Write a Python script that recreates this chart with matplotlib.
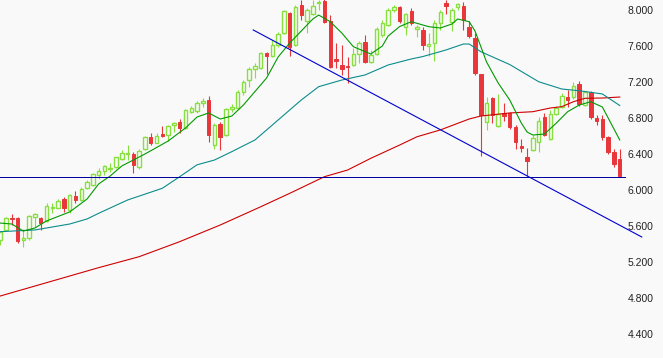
import numpy as np
import matplotlib
matplotlib.use('Agg')
import matplotlib.pyplot as plt

# candle data
opens = [5.444, 5.55, 5.685, 5.692, 5.448, 5.463, 5.703, 5.686, 5.659, 5.797,
         5.804, 5.896, 5.778, 5.933, 5.889, 6.019, 6.056, 6.167, 6.214, 6.230,
         6.252, 6.344, 6.40, 6.40, 6.259, 6.452, 6.593, 6.526, 6.622, 6.611,
         6.722, 6.759, 6.685, 6.87, 6.881, 6.963, 6.996, 6.50, 6.733, 6.611,
         6.896, 6.907, 7.093, 7.222, 7.341, 7.352, 7.526, 7.489, 7.611, 7.748,
         7.970, 7.611, 8.056, 7.881, 7.956, 8.074, 8.10, 7.881, 7.459, 7.389,
         7.378, 7.389, 7.511, 7.648, 7.426, 7.511, 7.72, 7.833, 8.0, 8.037,
         7.815, 7.992, 7.785, 7.778, 7.60, 7.63, 7.852, 8.074, 7.87, 8.03,
         8.044, 7.815, 7.685, 7.289, 6.759, 7.019, 6.711, 6.859, 6.852, 6.704,
         6.489, 6.363, 6.444, 6.537, 6.815, 6.563, 6.844, 6.926, 7.03, 7.03,
         7.178, 6.944, 7.093, 6.796, 6.785, 6.585, 6.426, 6.341]
highs = [5.54, 5.70, 5.733, 5.70, 5.563, 5.72, 5.748, 5.703, 5.852, 5.852,
         5.904, 5.919, 5.956, 5.993, 6.03, 6.111, 6.19, 6.24, 6.278, 6.296,
         6.37, 6.444, 6.496, 6.426, 6.456, 6.60, 6.63, 6.63, 6.711, 6.722,
         6.759, 6.785, 6.896, 6.93, 6.993, 7.019, 7.05, 6.748, 6.759, 6.907,
         6.956, 7.111, 7.222, 7.37, 7.407, 7.537, 7.537, 7.667, 7.759, 8.0,
         7.981, 8.056, 8.111, 8.019, 8.111, 8.111, 8.12, 7.944, 7.63, 7.611,
         7.481, 7.574, 7.659, 7.722, 7.556, 7.807, 7.889, 8.019, 8.056, 8.044,
         7.97, 8.022, 7.833, 7.815, 7.741, 7.889, 8.0, 8.111, 8.019, 8.074,
         8.092, 7.881, 7.741, 7.289, 7.03, 7.03, 7.067, 6.97, 6.87, 6.722,
         6.563, 6.463, 6.611, 6.815, 6.859, 6.889, 6.933, 7.074, 7.111, 7.204,
         7.215, 7.104, 7.104, 6.833, 6.833, 6.60, 6.452, 6.452]
lows = [5.389, 5.54, 5.611, 5.414, 5.370, 5.45, 5.592, 5.556, 5.648, 5.748,
        5.796, 5.759, 5.748, 5.859, 5.88, 6.008, 6.045, 6.12, 6.167, 6.204,
        6.25, 6.333, 6.333, 6.192, 6.23, 6.44, 6.50, 6.52, 6.585, 6.548,
        6.648, 6.637, 6.674, 6.86, 6.852, 6.926, 6.53, 6.452, 6.444, 6.60,
        6.87, 6.896, 7.056, 7.148, 7.241, 7.341, 7.289, 7.481, 7.593, 7.733,
        7.489, 7.60, 7.889, 7.744, 7.944, 8.0, 7.86, 7.352, 7.352, 7.278,
        7.185, 7.378, 7.415, 7.407, 7.407, 7.50, 7.70, 7.822, 7.981, 7.852,
        7.72, 7.83, 7.70, 7.556, 7.489, 7.437, 7.778, 7.956, 7.77, 8.0,
        7.778, 7.685, 7.278, 6.378, 6.667, 6.744, 6.704, 6.77, 6.68, 6.452,
        6.426, 6.16, 6.43, 6.426, 6.60, 6.556, 6.833, 6.907, 6.926, 7.008,
        6.933, 6.93, 6.785, 6.722, 6.552, 6.40, 6.252, 6.148]
closes = [5.533, 5.692, 5.675, 5.433, 5.463, 5.711, 5.733, 5.630, 5.822, 5.815,
          5.878, 5.796, 5.944, 5.889, 6.011, 6.086, 6.178, 6.211, 6.267, 6.248,
          6.363, 6.414, 6.414, 6.278, 6.437, 6.585, 6.519, 6.60, 6.604, 6.711,
          6.748, 6.692, 6.889, 6.907, 6.963, 6.993, 6.611, 6.722, 6.585, 6.896,
          6.919, 7.093, 7.204, 7.341, 7.378, 7.519, 7.489, 7.611, 7.733, 7.993,
          7.593, 8.030, 7.944, 8.0, 8.044, 8.092, 7.87, 7.37, 7.437, 7.341,
          7.363, 7.511, 7.637, 7.426, 7.50, 7.785, 7.859, 8.0, 8.03, 7.881,
          7.956, 7.852, 7.807, 7.611, 7.622, 7.859, 7.981, 8.044, 8.0, 8.067,
          7.889, 7.711, 7.304, 6.833, 6.963, 6.833, 6.844, 6.822, 6.704, 6.537,
          6.463, 6.326, 6.574, 6.77, 6.611, 6.844, 6.907, 7.044, 7.0, 7.156,
          6.956, 7.093, 6.807, 6.77, 6.585, 6.426, 6.289, 6.156]

# moving averages, sampled at candle positions
fast_idx = [0, 2, 4, 6, 8, 12, 15, 17, 19, 21, 25, 29, 32, 34, 36, 38, 40, 42,
            46, 48, 50, 52, 54, 55, 57, 59, 61, 64, 66, 67, 69, 71, 74, 76, 78,
            79, 81, 82, 84, 86, 88, 90, 91, 92, 94, 96, 98, 100, 102, 104, 105, 107]
fast_ma = [5.633, 5.622, 5.544, 5.578, 5.656, 5.756, 5.90, 6.067, 6.156, 6.267,
           6.40, 6.544, 6.689, 6.811, 6.856, 6.789, 6.822, 6.944, 7.244, 7.478,
           7.633, 7.767, 7.90, 7.944, 7.87, 7.744, 7.592, 7.511, 7.60, 7.711,
           7.817, 7.87, 7.815, 7.80, 7.844, 7.90, 7.87, 7.767, 7.422, 7.189,
           7.0, 6.744, 6.644, 6.611, 6.622, 6.741, 6.87, 6.944, 6.981, 6.922,
           6.80, 6.556]

mid_idx = [0, 6, 8, 12, 15, 17, 22, 28, 31, 34, 37, 40, 44, 47, 50, 52, 55, 59,
           63, 67, 71, 73, 77, 80, 81, 83, 88, 93, 97, 100, 104, 107]
mid_ma = [5.537, 5.556, 5.578, 5.622, 5.678, 5.741, 5.889, 6.019, 6.148, 6.28,
          6.333, 6.426, 6.556, 6.722, 6.889, 7.0, 7.148, 7.222, 7.278, 7.389,
          7.456, 7.483, 7.556, 7.622, 7.622, 7.537, 7.394, 7.203, 7.122, 7.103,
          7.067, 6.939]

slow_idx = [0, 17, 24, 31, 38, 45, 50, 56, 60, 64, 69, 72, 76, 81, 83, 88, 92,
            95, 97, 99, 101, 104, 107]
slow_ma = [4.822, 5.137, 5.259, 5.426, 5.611, 5.814, 5.963, 6.148, 6.222, 6.352,
           6.50, 6.592, 6.667, 6.789, 6.822, 6.856, 6.87, 6.911, 6.926, 6.981,
           7.019, 7.022, 7.033]

# hand-drawn lines
trend_idx = [43.7, 110.8]
trend_val = [7.778, 5.478]
support = 6.144

yticks = [4.4, 4.8, 5.2, 5.6, 6.0, 6.4, 6.8, 7.2, 7.6, 8.0]

bg = '#f9f9f9'
up_col = '#88e040'
down_col = '#e8363a'
line_w = 0.8

fig = plt.figure(figsize=(6.63, 3.58), dpi=100, facecolor=bg)
ax = fig.add_axes([0, 0, 626 / 663, 1])
ax.set_facecolor(bg)

x = np.arange(len(opens))
o = np.array(opens)
c = np.array(closes)
hi = np.array(highs)
lo = np.array(lows)
up = c >= o

# wicks
ax.vlines(x[up], lo[up], hi[up], color=up_col, lw=0.8, zorder=2)
ax.vlines(x[~up], lo[~up], hi[~up], color=down_col, lw=0.8, zorder=2)

# bodies: up candles hollow, down candles filled
bot = np.minimum(o, c)
h = np.abs(c - o)
ax.bar(x[up], h[up], bottom=bot[up], width=0.6, facecolor=bg,
       edgecolor=up_col, linewidth=1, zorder=3)
ax.bar(x[~up], h[~up], bottom=bot[~up], width=0.6, facecolor=down_col,
       edgecolor=down_col, linewidth=0.7, zorder=3)

# moving averages
ax.plot(slow_idx, slow_ma, color='#d00000', lw=line_w, zorder=4)
ax.plot(mid_idx, mid_ma, color='#0c8c8c', lw=line_w, zorder=4)
ax.plot(fast_idx, fast_ma, color='#009a00', lw=line_w, zorder=4)

ax.axhline(support, color='#0000a0', lw=0.65, antialiased=False, zorder=5)
ax.plot(trend_idx, trend_val, color='#0000d0', lw=line_w, zorder=5,
        clip_on=False)

ax.set_xlim(-0.035, 108.08)
ax.set_ylim(8 - 348 / 90, 8 + 10 / 90)
ax.set_xticks([])
ax.yaxis.tick_right()
ax.set_yticks(yticks)
ax.set_yticklabels(['%.3f' % t for t in yticks], fontsize=7.5,
                   family='Liberation Sans', color='#222222')
ax.tick_params(axis='y', length=0, pad=1)
for s in ax.spines.values():
    s.set_visible(False)

fig.savefig('out.png', dpi=100, facecolor=bg)
